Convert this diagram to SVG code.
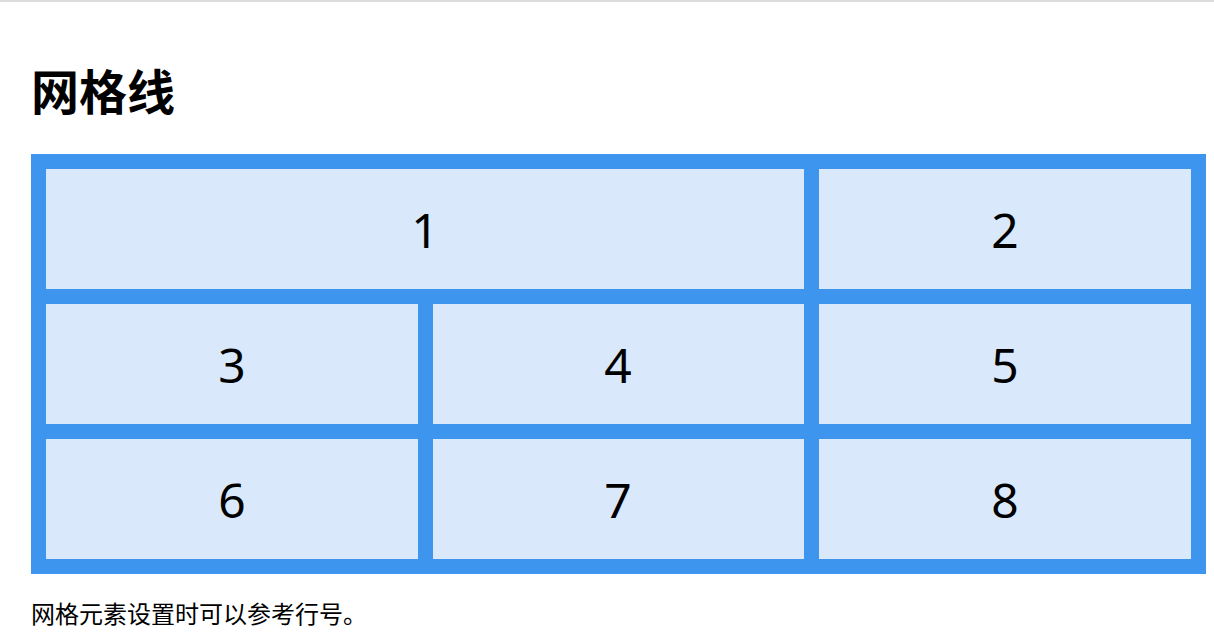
<svg xmlns="http://www.w3.org/2000/svg" width="1214" height="640" viewBox="0 0 1214 640">
<style>
.cell{fill:#d9e9fb}
.num{font-family:"Noto Sans","Open Sans",sans-serif;font-size:48px;fill:#000;text-anchor:middle;dominant-baseline:central}
.cjk{font-family:"Noto Sans CJK SC","Noto Sans",sans-serif;fill:#000}
</style>
<rect x="0" y="0" width="1214" height="640" fill="#fff"/>
<rect x="0" y="0" width="1214" height="2" fill="#dcdcdc"/>
<text class="cjk" x="31" y="110" font-size="48" font-weight="bold">网格线</text>
<rect id="grid" x="31" y="154" width="1175" height="420" fill="#3e95ee"/>
<g id="cell1"><rect class="cell" x="46" y="169" width="758" height="120"/><text class="num" x="425" y="229">1</text></g>
<g id="cell2"><rect class="cell" x="819" y="169" width="372" height="120"/><text class="num" x="1005" y="229">2</text></g>
<g id="cell3"><rect class="cell" x="46" y="304" width="372" height="120"/><text class="num" x="232" y="364">3</text></g>
<g id="cell4"><rect class="cell" x="433" y="304" width="371" height="120"/><text class="num" x="618" y="364">4</text></g>
<g id="cell5"><rect class="cell" x="819" y="304" width="372" height="120"/><text class="num" x="1005" y="364">5</text></g>
<g id="cell6"><rect class="cell" x="46" y="439" width="372" height="120"/><text class="num" x="232" y="499">6</text></g>
<g id="cell7"><rect class="cell" x="433" y="439" width="371" height="120"/><text class="num" x="618" y="499">7</text></g>
<g id="cell8"><rect class="cell" x="819" y="439" width="372" height="120"/><text class="num" x="1005" y="499">8</text></g>
<g id="connectors"/>
<text class="cjk" x="31" y="623" font-size="24">网格元素设置时可以参考行号。</text>
</svg>
